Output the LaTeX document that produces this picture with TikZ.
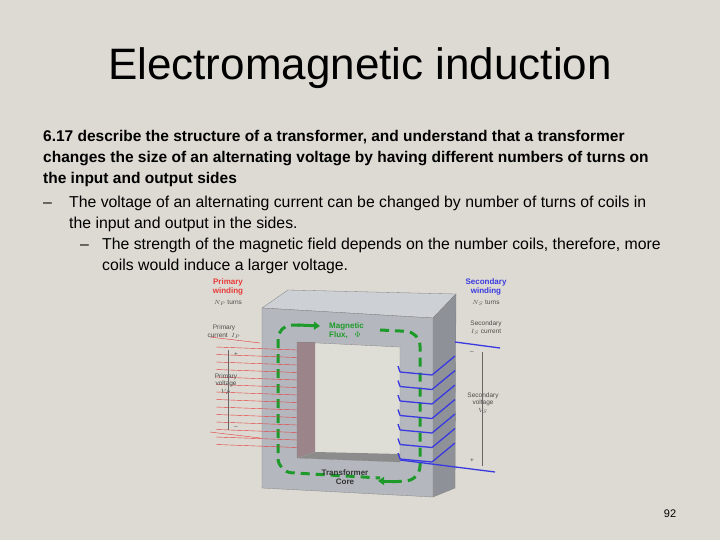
\documentclass[tikz,border=0pt]{standalone}
\usepackage{fontspec}
\setmainfont{Liberation Sans}
\usetikzlibrary{arrows.meta}
\definecolor{bg}{HTML}{DCDAD2}
\definecolor{coreF}{HTML}{B4B8BE}
\definecolor{coreT}{HTML}{CDD0D4}
\definecolor{coreS}{HTML}{8E9298}
\definecolor{flux}{HTML}{1E9A2A}
\definecolor{prim}{HTML}{E83A3A}
\definecolor{sec}{HTML}{3A3AE0}
\tikzset{
  body/.style={anchor=north west,font=\fontsize{15.8pt}{21pt}\selectfont,align=left,inner sep=0},
  small/.style={font=\fontsize{6.5pt}{7.5pt}\selectfont,align=center,inner sep=0,text=black!70},
  lab/.style={font=\bfseries\fontsize{8pt}{9pt}\selectfont,align=center,inner sep=0},
}
\begin{document}
\begin{tikzpicture}[x=1pt,y=-1pt]
\fill[bg] (0,0) rectangle (720,540);
\useasboundingbox (0,0) rectangle (720,540);
\node (title) at (360,68) {\fontsize{44pt}{48pt}\selectfont Electromagnetic induction};
\node[body,font=\bfseries\fontsize{15.5pt}{21pt}\selectfont] (t1) at (43,130) {6.17 describe the structure of a transformer, and understand that a transformer\\changes the size of an alternating voltage by having different numbers of turns on\\the input and output sides};
\node[body] (d1) at (43,193) {\strut–};
\node[body] (t2) at (69,193) {\strut The voltage of an alternating current can be changed by number of turns of coils in\\the input and output in the sides.};
\node[body] (d2) at (80,235) {\strut–};
\node[body] (t3) at (102,235) {\strut The strength of the magnetic field depends on the number coils, therefore, more\\coils would induce a larger voltage.};
\node (pg) at (670,514) {\fontsize{11pt}{12pt}\selectfont 92};
% core
\fill[coreT,draw=black!50,line width=0.3] (262,308) -- (288,290) -- (456,294) -- (433,318) -- cycle;
\fill[coreS,draw=black!50,line width=0.3] (433,318) -- (456,294) -- (455,488) -- (433,497) -- cycle;
\fill[coreF,draw=black!50,line width=0.3] (262,308) -- (433,318) -- (433,497) -- (262,488) -- cycle;
\fill[bg!90!white] (297,342) -- (400,347) -- (400,462) -- (297,458) -- cycle;
\fill[coreS!85!prim] (297,342) -- (315,342) -- (315,452) -- (297,458) -- cycle;
\fill[black!45] (297,458) -- (315,452) -- (400,454) -- (400,462) -- cycle;
\draw[black!50,line width=0.3] (297,342) -- (400,347) -- (400,462) -- (297,458) -- cycle;
% flux
\draw[flux,line width=3,dash pattern=on 9pt off 6pt,rounded corners=14] (300,325) -- (278,325) -- (278,472) -- (380,478);
\draw[flux,line width=3,dash pattern=on 9pt off 6pt,rounded corners=14] (380,330) -- (420,332) -- (420,480) -- (390,482);
\draw[flux,line width=3,-{Triangle[length=6pt,width=8pt]}] (298,325) -- (320,326);
\draw[flux,line width=3,-{Triangle[length=6pt,width=8pt]}] (395,481) -- (378,481);
\node[lab,text=flux,anchor=west,align=left] (mf) at (329,331) {Magnetic\\Flux,\;\; $\Phi$};
\node[lab,text=black!80] (tc) at (345,477) {Transformer\\Core};
% primary
\foreach \i in {0,...,13} \draw[prim,line width=0.4] (216,{347+\i*7.5}) -- (297,{350+\i*7.5});
\draw[prim,line width=0.4] (210,337) -- (260,343);
\draw[prim,line width=0.4] (210,432) -- (260,438);
\node[lab,text=prim] (pw) at (228,287) {Primary\\winding};
\node[small] (pn) at (228,303) {$N_P$ turns};
\node[small] (pc) at (224,332) {Primary\\current\;\;$I_P$};
\node[small] (pv) at (226,384) {Primary\\voltage\\$V_P$};
\node[small] (pp) at (236,355) {+};
\node[small] (pm) at (236,428) {--};
\coordinate (pa) at (228,350); \coordinate (pb) at (228,430);
\draw[black!60,line width=0.3] (pa) -- (pb);
% secondary
\foreach \i in {0,...,6} {
  \draw[sec,line width=1.3] (400,{372+\i*14.5}) -- (432,{375+\i*14.5}) -- (455,{356+\i*14.5});
  \draw[sec,line width=1.3] (400,{372+\i*14.5}) -- (398,{366+\i*14.5});
}
\draw[sec,line width=1.3] (455,342) -- (500,348);
\draw[sec,line width=1.3] (400,460) -- (495,472);
\node[lab,text=sec] (sw) at (486,287) {Secondary\\winding};
\node[small] (sn) at (486,303) {$N_S$ turns};
\node[small] (sc) at (486,328) {Secondary\\$I_S$\;current};
\node[small] (sv) at (483,403) {Secondary\\voltage\\$V_S$};
\node[small] (sp) at (472,461) {+};
\node[small] (sm) at (472,353) {--};
\coordinate (sa) at (482,352); \coordinate (sb) at (482,466);
\draw[black!60,line width=0.3] (sa) -- (sb);
\end{tikzpicture}
\end{document}
